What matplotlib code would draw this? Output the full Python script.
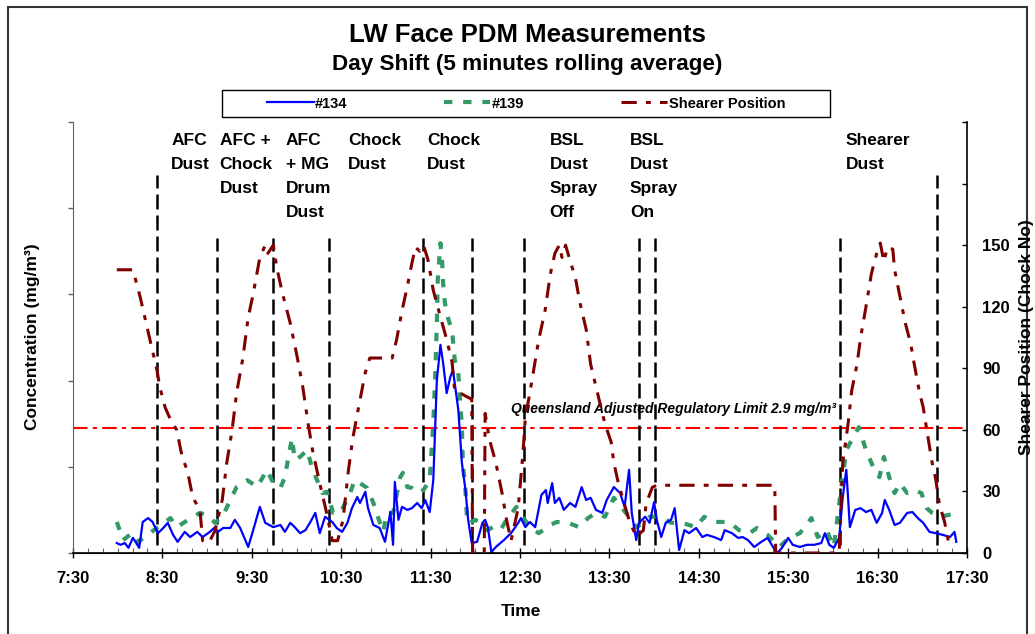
import matplotlib
matplotlib.use('Agg')
import matplotlib.pyplot as plt
from matplotlib.patches import Rectangle
from matplotlib.ticker import MultipleLocator, FuncFormatter

plt.rcParams['font.family'] = ['Liberation Sans', 'DejaVu Sans']
plt.rcParams['font.weight'] = 'bold'

# time of day in decimal hours
t134 = [7.99, 8.03, 8.08, 8.12, 8.17, 8.20, 8.24, 8.28, 8.34, 8.39, 8.45, 8.51, 8.56, 8.62, 8.67,
        8.75, 8.81, 8.89, 8.95, 9.03, 9.09, 9.12, 9.18, 9.26, 9.31, 9.37, 9.46, 9.51, 9.59, 9.65,
        9.74, 9.82, 9.87, 9.93, 9.98, 10.04, 10.10, 10.15, 10.21, 10.26, 10.32, 10.40, 10.45, 10.51,
        10.57, 10.62, 10.68, 10.71, 10.77, 10.80, 10.86, 10.93, 10.99, 11.05, 11.08, 11.10, 11.14,
        11.18, 11.24, 11.29, 11.35, 11.40, 11.44, 11.49, 11.53, 11.57, 11.61, 11.64, 11.68, 11.72,
        11.75, 11.81, 11.85, 11.89, 11.92, 11.96, 12.02, 12.08, 12.11, 12.14, 12.18, 12.23, 12.32,
        12.40, 12.48, 12.51, 12.56, 12.61, 12.67, 12.74, 12.79, 12.81, 12.86, 12.89, 12.94, 12.99,
        13.06, 13.12, 13.19, 13.24, 13.29, 13.35, 13.42, 13.47, 13.55, 13.62, 13.67, 13.72, 13.75,
        13.80, 13.83, 13.90, 13.95, 14.00, 14.03, 14.08, 14.13, 14.19, 14.23, 14.28, 14.34, 14.39,
        14.47, 14.54, 14.59, 14.67, 14.75, 14.79, 14.87, 14.94, 14.99, 15.05, 15.12, 15.20, 15.27,
        15.33, 15.38, 15.43, 15.50, 15.55, 15.63, 15.71, 15.79, 15.87, 15.91, 15.96, 16.01, 16.07,
        16.11, 16.15, 16.19, 16.25, 16.31, 16.37, 16.43, 16.49, 16.55, 16.58, 16.63, 16.69, 16.75,
        16.83, 16.89, 16.95, 17.01, 17.08, 17.15, 17.23, 17.31, 17.36, 17.38]
pdm134 = [0.23, 0.19, 0.23, 0.12, 0.35, 0.26, 0.12, 0.72, 0.81, 0.72, 0.46, 0.58, 0.70, 0.42, 0.26,
          0.49, 0.37, 0.49, 0.37, 0.49, 0.60, 0.49, 0.58, 0.58, 0.77, 0.58, 0.14, 0.49, 1.07, 0.70,
          0.60, 0.65, 0.49, 0.70, 0.60, 0.46, 0.53, 0.70, 0.93, 0.46, 0.84, 0.72, 0.58, 0.49,
          0.70, 1.04, 1.30, 1.16, 1.42, 1.04, 0.65, 0.58, 0.26, 0.95, 0.19, 1.65, 0.77,
          1.07, 1.00, 1.04, 1.16, 1.04, 1.23, 0.95, 1.69, 4.01, 4.83, 4.41, 3.71, 4.08,
          4.25, 3.32, 2.09, 1.46, 0.77, 0.23, 0.26, 0.70, 0.77, 0.60, 0.02, 0.14, 0.30,
          0.46, 0.70, 0.81, 0.60, 0.72, 0.60, 1.35, 1.46, 1.16, 1.62, 1.16, 1.28, 1.00,
          1.16, 1.07, 1.53, 1.23, 1.28, 1.00, 0.93, 1.23, 1.53, 1.39, 1.07, 1.93, 0.93,
          0.30, 0.70, 0.84, 0.70, 1.18, 0.77, 0.37, 0.70, 0.77, 1.04, 0.07, 0.53, 0.46,
          0.58, 0.37, 0.42, 0.37, 0.30, 0.53, 0.46, 0.35, 0.37, 0.30, 0.14, 0.26, 0.35,
          0.14, 0.00, 0.12, 0.35, 0.19, 0.14, 0.19, 0.19, 0.23, 0.46, 0.19, 0.12, 0.35,
          1.30, 1.93, 0.60, 1.00, 1.04, 0.95, 1.00, 0.70, 0.93, 1.23, 1.00, 0.65, 0.70,
          0.93, 0.95, 0.81, 0.70, 0.49, 0.46, 0.42, 0.37, 0.49, 0.26]

t139 = [7.99, 8.06, 8.16, 8.23, 8.36, 8.45, 8.59, 8.66, 8.79, 8.92, 9.00, 9.09, 9.18, 9.26, 9.33,
        9.45, 9.56, 9.67, 9.74, 9.82, 9.87, 9.91, 9.95, 9.98, 10.04, 10.12, 10.17, 10.23, 10.29,
        10.34, 10.41, 10.49, 10.60, 10.65, 10.71, 10.79, 10.86, 10.91, 10.97, 11.01, 11.08, 11.16,
        11.19, 11.24, 11.29, 11.36, 11.42, 11.49, 11.53, 11.55, 11.57, 11.58, 11.61, 11.63, 11.64,
        11.66, 11.69, 11.74, 11.77, 11.81, 11.85, 11.86, 11.89, 11.91, 11.94, 12.00, 12.05, 12.13,
        12.20, 12.28, 12.35, 12.46, 12.53, 12.61, 12.71, 12.84, 12.91, 13.04, 13.16, 13.26, 13.35,
        13.45, 13.55, 13.63, 13.72, 13.80, 13.88, 13.95, 14.08, 14.19, 14.31, 14.47, 14.56, 14.67,
        14.84, 14.95, 15.07, 15.15, 15.27, 15.40, 15.51, 15.63, 15.76, 15.83, 15.93, 16.01, 16.09,
        16.15, 16.21, 16.29, 16.37, 16.45, 16.52, 16.57, 16.63, 16.69, 16.75, 16.83, 16.91, 16.99,
        17.05, 17.11, 17.19, 17.29, 17.37]
pdm139 = [0.72, 0.30, 0.46, 0.26, 0.46, 0.60, 0.81, 0.60, 0.77, 0.93, 0.88, 0.70, 0.88, 1.23, 1.53,
          1.69, 1.53, 1.93, 1.62, 1.51, 1.76, 2.23, 2.67, 2.16, 2.23, 2.39, 2.00, 1.69, 1.39,
          1.42, 0.93, 0.93, 1.39, 1.69, 1.62, 1.51, 1.16, 0.84, 0.49, 0.93, 0.93, 1.76,
          1.86, 1.53, 1.51, 1.39, 1.46, 1.69, 3.02, 4.01, 5.34, 6.33, 7.19, 6.73, 6.26,
          5.80, 5.48, 5.17, 4.48, 4.18, 2.92, 2.09, 1.46, 0.70, 0.70, 0.77, 0.70, 0.53,
          0.60, 0.53, 0.77, 1.07, 0.84, 0.60, 0.46, 0.65, 0.72, 0.70, 0.60, 0.81, 0.93,
          0.84, 1.28, 1.07, 0.84, 0.60, 0.70, 0.84, 0.84, 0.70, 0.70, 0.60, 0.84, 0.72,
          0.72, 0.53, 0.46, 0.58, 0.42, 0.14, 0.35, 0.46, 0.81, 0.37, 0.53, 0.14, 1.46,
          2.39, 2.62, 2.92, 2.39, 2.00, 1.76, 2.23, 1.76, 1.39, 1.62, 1.39, 1.46, 1.39,
          1.04, 0.93, 0.84, 0.88, 0.93]

t_shearer = [7.99, 8.17, 8.25, 8.36, 8.44, 8.47, 8.53, 8.59, 8.66, 8.72, 8.78, 8.84, 8.92, 8.95,
             9.02, 9.09, 9.17, 9.22, 9.28, 9.33, 9.40, 9.46, 9.51, 9.59, 9.65, 9.68, 9.74, 9.78,
             9.84, 9.93, 10.01, 10.07, 10.13, 10.18, 10.26, 10.34, 10.40, 10.46, 10.52, 10.58,
             10.63, 10.69, 10.77, 10.82, 11.07, 11.12, 11.18, 11.24, 11.29, 11.33, 11.38, 11.42,
             11.47, 11.53, 11.61, 11.68, 11.74, 11.77, 11.83, 11.91, 11.96, 11.97, 12.10, 12.11,
             12.16, 12.23, 12.30, 12.35, 12.40, 12.48, 12.53, 12.56, 12.61, 12.66, 12.71, 12.78,
             12.84, 12.89, 12.94, 12.97, 13.01, 13.07, 13.12, 13.17, 13.24, 13.29, 13.35, 13.45,
             13.52, 13.55, 13.60, 13.72, 13.80, 13.88, 13.91, 13.98, 14.03, 15.35, 15.36, 16.07,
             16.08, 16.11, 16.17, 16.21, 16.27, 16.31, 16.37, 16.43, 16.49, 16.53, 16.57, 16.61,
             16.67, 16.69, 16.75, 16.81, 16.87, 16.91, 16.97, 17.01, 17.05, 17.11, 17.15, 17.19,
             17.25, 17.29]
chock_no = [138, 138, 125, 104, 89, 81, 71, 65, 60, 47, 40, 27, 21, 6,
            5, 11, 26, 44, 60, 78, 95, 115, 125, 144, 150, 146, 150, 139,
            127, 112, 95, 81, 63, 50, 34, 19, 6, 6, 16, 40,
            56, 70, 88, 95, 95, 104, 118, 130, 141, 149, 147, 150,
            143, 128, 115, 104, 93, 79, 78, 76, 75, 0, 0, 68,
            55, 44, 29, 16, 6, 22, 47, 66, 78, 91, 104, 118,
            136, 146, 150, 144, 150, 141, 134, 122, 109, 92, 81, 63,
            54, 44, 34, 16, 8, 11, 24, 32, 33, 33, 0, 0,
            11, 44, 63, 79, 92, 105, 120, 136, 146, 151, 142, 149,
            148, 138, 125, 112, 102, 92, 78, 71, 60, 44, 36, 24,
            15, 6]

# activity markers
event_times = [8.44, 9.11, 9.74, 10.36, 11.41, 11.96, 12.55, 13.83, 14.01, 16.08, 17.17]
event_tops = [0.877, 0.731, 0.731, 0.731, 0.731, 0.731, 0.731, 0.731, 0.731, 0.731, 0.877]
event_labels = ['AFC\nDust', 'AFC +\nChock\nDust', 'AFC\n+ MG\nDrum\nDust', 'Chock\nDust',
                'Chock\nDust', 'BSL\nDust\nSpray\nOff', 'BSL\nDust\nSpray\nOn', 'Shearer\nDust']
label_x = [8.60, 9.14, 9.88, 10.58, 11.46, 12.83, 13.73, 16.14]

limit = 2.9

W, H = 1035, 634
fig = plt.figure(figsize=(W / 100, H / 100), dpi=100)
ax = fig.add_axes([73 / W, 1 - 553 / H, (967 - 73) / W, (553 - 122) / H])
ax2 = ax.twinx()

ax.axhline(limit, color='#FF0000', lw=1.5, dashes=(7, 2.5, 2, 2.5))
for t, top in zip(event_times, event_tops):
    ax.axvline(t, ymin=0.018, ymax=top, color='black', lw=1.8, dashes=(6, 2.4))

l139, = ax.plot(t139, pdm139, color='#339966', lw=3, dashes=(2.0, 2.6), label='#139')
l134, = ax.plot(t134, pdm134, color='#0000FF', lw=1.6, label='#134')
lsh, = ax2.plot(t_shearer, chock_no, color='#800000', lw=2.2, dashes=(5, 3, 1.6, 3),
                label='Shearer Position')

ax.set_xlim(7.5, 17.5)
ax.set_ylim(0, 10)
ax2.set_ylim(0, 210)
ax.xaxis.set_major_locator(MultipleLocator(1, offset=0.5))
ax.xaxis.set_minor_locator(MultipleLocator(1 / 6))
ax.xaxis.set_major_formatter(FuncFormatter(lambda v, p: f"{int(v)}:{int(round((v % 1) * 60)):02d}"))
ax.yaxis.set_major_locator(MultipleLocator(2))
ax2.yaxis.set_major_locator(MultipleLocator(30))
ax2.yaxis.set_major_formatter(FuncFormatter(lambda v, p: f"{v:.0f}" if v <= 150 else ''))

ax.tick_params(axis='x', which='major', direction='inout', length=6.5, width=1, labelsize=12, pad=10)
ax.tick_params(axis='x', which='minor', direction='in', length=3.6, width=0.8, color='#606060')
ax.tick_params(axis='y', direction='out', length=3.6, width=1, color='#606060', labelleft=False)
ax2.tick_params(axis='y', direction='in', length=3.6, width=1, labelsize=12, pad=11)

ax.spines[['top', 'right']].set_visible(False)
ax2.spines[['top', 'left']].set_visible(False)
ax.spines['left'].set_color('#606060')
ax.spines['bottom'].set_linewidth(1.2)
ax2.spines['right'].set_linewidth(1.2)

for x, txt in zip(label_x, event_labels):
    ax.text(x, 0.974, txt, transform=ax.get_xaxis_transform(), ha='left', va='top',
            fontsize=12.5, fontweight='bold', linespacing=1.75)

ax.text(12.40, 3.25, 'Queensland Adjusted Regulatory Limit 2.9 mg/m³', ha='left', va='baseline',
        fontsize=10, fontweight='bold', fontstyle='italic')

fig.text(527 / W, 1 - 42 / H, 'LW Face PDM Measurements', ha='center', va='baseline',
         fontsize=18.5, fontweight='bold')
fig.text(527 / W, 1 - 70 / H, 'Day Shift (5 minutes rolling average)', ha='center', va='baseline',
         fontsize=16.2, fontweight='bold')
fig.text(33 / W, 1 - 337 / H, 'Concentration (mg/m³)', rotation=90, ha='center', va='center',
         fontsize=12.5, fontweight='bold')
fig.text(1026 / W, 1 - 337 / H, 'Shearer Position (Chock No)', rotation=90, ha='center', va='center',
         fontsize=12.5, fontweight='bold')
fig.text(521 / W, 1 - 611 / H, 'Time', ha='center', va='center', fontsize=12.5, fontweight='bold')

fig.patches.append(Rectangle((222 / W, 1 - 117 / H), 608 / W, 27 / H, transform=fig.transFigure,
                             fill=False, edgecolor='black', lw=1))
fig.patches.append(Rectangle((8 / W, -0.02), 1019 / W, 1 - 7 / H + 0.02, transform=fig.transFigure,
                             fill=False, edgecolor='#333333', lw=1.5, clip_on=False))

fig.legend(handles=[l134, l139, lsh], loc='center', bbox_to_anchor=(526 / W, 1 - 103.5 / H),
           ncol=3, frameon=False, fontsize=10.5, handlelength=3.2, handletextpad=0.1,
           columnspacing=6.6, borderpad=0, borderaxespad=0)

fig.savefig('out.png', dpi=100)
